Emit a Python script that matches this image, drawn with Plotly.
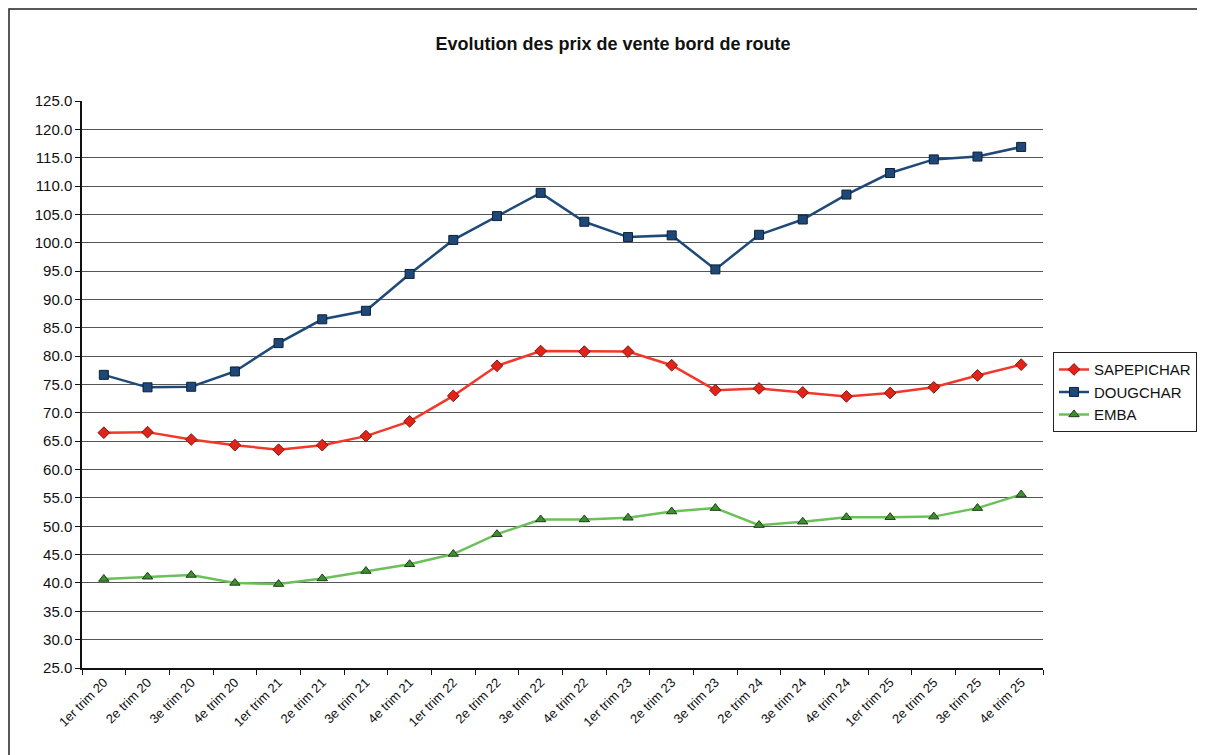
import plotly.graph_objects as go

categories = [
    "1er trim 20", "2e trim 20", "3e trim 20", "4e trim 20",
    "1er trim 21", "2e trim 21", "3e trim 21", "4e trim 21",
    "1er trim 22", "2e trim 22", "3e trim 22", "4e trim 22",
    "1er trim 23", "2e trim 23", "3e trim 23",
    "2e trim 24", "3e trim 24", "4e trim 24",
    "1er trim 25", "2e trim 25", "3e trim 25", "4e trim 25",
]

sapepichar = [66.5, 66.6, 65.3, 64.3, 63.5, 64.3, 65.9, 68.5, 73.0, 78.3, 80.9,
              80.8, 80.8, 78.4, 74.0, 74.3, 73.6, 72.9, 73.5, 74.5, 76.6, 78.5]
dougchar = [76.7, 74.5, 74.6, 77.3, 82.3, 86.5, 88.0, 94.5, 100.5, 104.7, 108.8,
            103.7, 101.0, 101.3, 95.3, 101.4, 104.1, 108.5, 112.3, 114.7, 115.2, 116.9]
emba = [40.7, 41.1, 41.4, 40.0, 39.8, 40.8, 42.1, 43.3, 45.1, 48.6, 51.2,
        51.2, 51.5, 52.6, 53.2, 50.2, 50.8, 51.6, 51.6, 51.7, 53.2, 55.6]

yticks = [25 + 5 * i for i in range(21)]

FONT = "Liberation Sans, Arial, sans-serif"

W, H = 1205, 755
L, R, T, B = 74, 170, 93, 95
PW, PH = W - L - R, H - T - B

fig = go.Figure()
fig.add_trace(go.Scatter(
    x=categories, y=sapepichar, name="SAPEPICHAR", mode="lines+markers",
    line=dict(color="#f2382a", width=2.5),
    marker=dict(symbol="diamond", size=9, color="#e2231a", line=dict(color="#7a1a10", width=1)),
))
fig.add_trace(go.Scatter(
    x=categories, y=dougchar, name="DOUGCHAR", mode="lines+markers",
    line=dict(color="#1f4a78", width=2.5),
    marker=dict(symbol="square", size=9, color="#1d4877", line=dict(color="#0c2038", width=1)),
))
fig.add_trace(go.Scatter(
    x=categories, y=emba, name="EMBA", mode="lines+markers",
    line=dict(color="#6cc05a", width=2.5),
    marker=dict(symbol="triangle-up", size=9, color="#3f8f32", line=dict(color="#1d3f16", width=1)),
))

fig.update_layout(
    width=W, height=H,
    paper_bgcolor="white", plot_bgcolor="white",
    margin=dict(l=L, r=R, t=T, b=B),
    font=dict(family=FONT, color="#111111", size=12),
    title=dict(text="<b>Evolution des prix de vente bord de route</b>",
               x=605 / W, xanchor="center", y=1 - 36 / H, yanchor="middle",
               font=dict(family=FONT, size=18, color="#111111")),
    showlegend=True,
    legend=dict(x=1.0104, xanchor="left", y=0.557, yanchor="top",
                bordercolor="#222222", borderwidth=1, bgcolor="white",
                font=dict(family=FONT, size=15, color="#111111"),
                itemwidth=30, tracegroupgap=2),
    shapes=[dict(type="rect", xref="paper", yref="paper",
                 x0=(1 - L) / PW, x1=(W + 20 - L) / PW,
                 y0=1 - (H + 20 - T) / PH, y1=1 + (T - 1) / PH,
                 line=dict(color="#222222", width=1.5), layer="below")],
)

fig.update_xaxes(
    type="category", range=[-0.5, len(categories) - 0.5],
    tickson="boundaries", ticks="outside", ticklen=5, tickcolor="#111111",
    showline=True, linecolor="#111111", linewidth=1.5, showgrid=False,
    tickangle=-45, tickfont=dict(family=FONT, size=13, color="#111111"),
)
fig.update_yaxes(
    range=[25, 125], tickvals=yticks, ticktext=[f"{v:.1f}" for v in yticks],
    ticks="outside", ticklen=5, tickcolor="#111111",
    showline=True, linecolor="#111111", linewidth=1.5,
    showgrid=True, gridcolor="#555555", gridwidth=1,
    zeroline=False, tickfont=dict(family=FONT, size=15, color="#111111"),
)

fig.write_html("out.html")
